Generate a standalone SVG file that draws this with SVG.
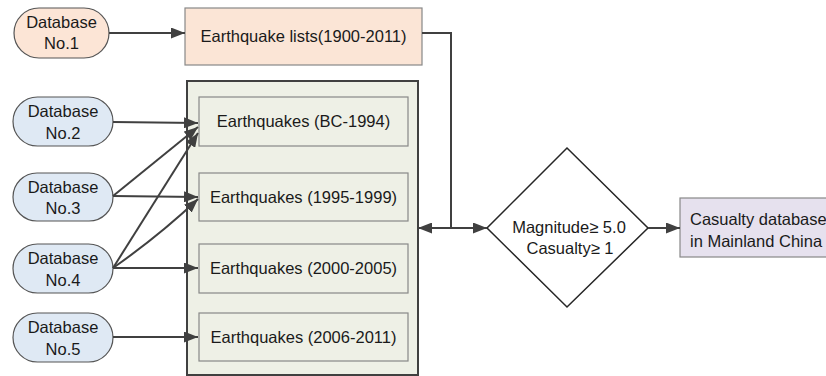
<svg xmlns="http://www.w3.org/2000/svg" width="826" height="376" viewBox="0 0 826 376">
<defs>
<style>
text{font-family:"Liberation Sans",Arial,sans-serif;font-size:16.5px;fill:#1a1a1a}
.c{text-anchor:middle}
.db1{fill:#fce5d6;stroke:#555;stroke-width:1.2}
.db{fill:#dfe9f4;stroke:#555;stroke-width:1.2}
.box{fill:#eef0e6;stroke:#888;stroke-width:1.2}
.cont{fill:#eef0e6;stroke:#404040;stroke-width:2}
.peach{fill:#fbe5d6;stroke:#888;stroke-width:1.2}
.lav{fill:#e6e1ee;stroke:#888;stroke-width:1.2}
.dia{fill:#fff;stroke:#262626;stroke-width:1.5}
.ln{fill:none;stroke:#404040;stroke-width:2}
</style>
<marker id="ah" viewBox="0 0 14 11" refX="14" refY="5.5" markerWidth="14" markerHeight="11" markerUnits="userSpaceOnUse" orient="auto-start-reverse">
<path d="M0,0 L14,5.5 L0,11 z" fill="#404040"/>
</marker>
</defs>
<g id="db1"><rect class="db1" x="14" y="8" width="95" height="50" rx="25"/><text class="c" x="61.5" y="28">Database</text><text class="c" x="61.5" y="49">No.1</text></g>
<g id="lists"><rect class="peach" x="185" y="8" width="237" height="57"/><text class="c" x="303.5" y="42">Earthquake lists(1900-2011)</text></g>
<g id="container"><rect class="cont" x="187" y="81" width="231" height="294"/></g>
<g id="eq1"><rect class="box" x="199" y="97" width="209" height="49"/><text class="c" x="303.5" y="127">Earthquakes (BC-1994)</text></g>
<g id="eq2"><rect class="box" x="199" y="173" width="209" height="48"/><text class="c" x="303.5" y="203">Earthquakes (1995-1999)</text></g>
<g id="eq3"><rect class="box" x="199" y="244" width="209" height="49"/><text class="c" x="303.5" y="274">Earthquakes (2000-2005)</text></g>
<g id="eq4"><rect class="box" x="199" y="313" width="209" height="48"/><text class="c" x="303.5" y="343">Earthquakes (2006-2011)</text></g>
<g id="db2"><rect class="db" x="13" y="97" width="100" height="49" rx="24.5"/><text class="c" x="63" y="117">Database</text><text class="c" x="63" y="139">No.2</text></g>
<g id="db3"><rect class="db" x="13" y="173" width="100" height="48" rx="24"/><text class="c" x="63" y="193">Database</text><text class="c" x="63" y="214">No.3</text></g>
<g id="db4"><rect class="db" x="13" y="244" width="100" height="49" rx="24.5"/><text class="c" x="63" y="264">Database</text><text class="c" x="63" y="286">No.4</text></g>
<g id="db5"><rect class="db" x="13" y="313" width="100" height="49" rx="24.5"/><text class="c" x="63" y="333">Database</text><text class="c" x="63" y="355">No.5</text></g>
<g id="filter"><polygon class="dia" points="567,148 648,228 567,307 487,228"/><text class="c" x="569" y="233">Magnitude≥  5.0</text><text class="c" x="570" y="254">Casualty≥ 1</text></g>
<g id="casualty"><rect class="lav" x="680" y="198" width="150" height="59"/><text x="690" y="225">Casualty database</text><text x="690" y="247">in Mainland China</text></g>
<g id="connectors">
<line class="ln" x1="109" y1="33" x2="185" y2="33" marker-end="url(#ah)"/>
<line class="ln" x1="113" y1="122" x2="198" y2="123" marker-end="url(#ah)"/>
<line class="ln" x1="113" y1="196" x2="198" y2="127" marker-end="url(#ah)"/>
<line class="ln" x1="113" y1="268" x2="198" y2="133" marker-end="url(#ah)"/>
<line class="ln" x1="113" y1="196" x2="198" y2="197" marker-end="url(#ah)"/>
<path class="ln" d="M113,268 Q160,235 198,199" marker-end="url(#ah)"/>
<line class="ln" x1="113" y1="268" x2="198" y2="268" marker-end="url(#ah)"/>
<line class="ln" x1="113" y1="337" x2="198" y2="337" marker-end="url(#ah)"/>
<polyline class="ln" points="422,33 451,33 451,228"/>
<line class="ln" x1="418" y1="228" x2="487" y2="228" marker-start="url(#ah)" marker-end="url(#ah)"/>
<line class="ln" x1="648" y1="228" x2="680" y2="228" marker-end="url(#ah)"/>
</g>
</svg>
